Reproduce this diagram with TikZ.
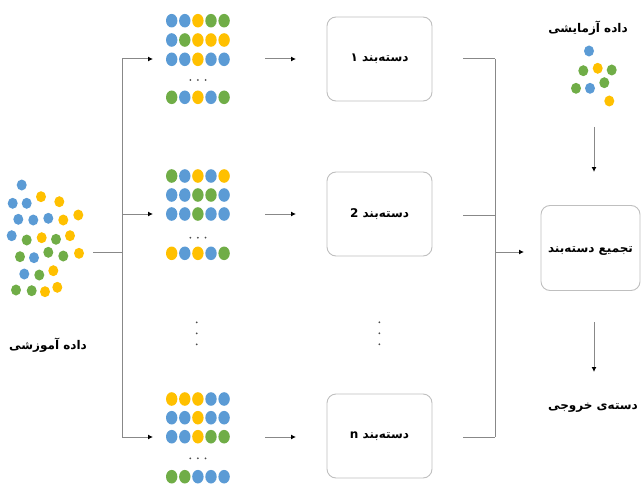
\documentclass[tikz,border=0pt]{standalone}
\usepackage{fontspec}
\usetikzlibrary{arrows.meta}
\TeXXeTstate=1
\newfontfamily\arabicfont[Script=Arabic]{DejaVu Sans}
\definecolor{cb}{HTML}{5B9BD5}
\definecolor{cy}{HTML}{FFC000}
\definecolor{cg}{HTML}{70AD47}
\definecolor{lgray}{HTML}{888888}
\definecolor{bgray}{HTML}{BFBFBF}

\tikzset{
  link/.style={draw=lgray, line width=1pt},
  arr/.style={link, -{Latex[length=5pt,width=5pt,color=black]}},
  clsbox/.style={draw=bgray, line width=0.9pt, rounded corners=9pt,
    minimum width=105pt, minimum height=84pt, inner sep=0pt},
  aggbox/.style={clsbox, minimum width=99pt, minimum height=85pt},
  fa/.style={font=\arabicfont\bfseries\fontsize{12}{14}\selectfont, inner sep=1pt},
  tinydot/.style={fill=black!70},
}

% one row of five sample dots in a bootstrap set
\newcommand\dotrow[2]{%
  \foreach \c [count=\i from 0] in {#2}{%
    \fill[\c] (171.7+13.1*\i,#1) ellipse [x radius=5.7pt, y radius=6.8pt];}}
% horizontal ellipsis under a set
\newcommand\hdotline[1]{%
  \foreach \xx in {190.3,197.9,205.5}{\fill[tinydot] (\xx,#1) circle [radius=1pt];}}
% vertical ellipsis
\newcommand\vdotline[1]{%
  \foreach \yy in {322.3,333.3,344.3}{\fill[tinydot] (#1,\yy) circle [radius=1pt];}}
% a single loose sample
\newcommand\sdot[3]{\fill[#3] (#1,#2) ellipse [x radius=5pt, y radius=5.5pt];}

\begin{document}
\begin{tikzpicture}[x=1pt,y=-1pt]
\useasboundingbox (0,0) rectangle (642,484);

% training data cloud
\sdot{21.7}{185}{cb}
\sdot{12.7}{203.3}{cb}
\sdot{26.7}{203.3}{cb}
\sdot{41}{196.7}{cy}
\sdot{59.3}{201.7}{cy}
\sdot{18.3}{219.3}{cb}
\sdot{33.3}{220}{cb}
\sdot{48.3}{218.3}{cb}
\sdot{63.3}{220}{cy}
\sdot{78.3}{215}{cy}
\sdot{11.7}{235.7}{cb}
\sdot{26.7}{240}{cg}
\sdot{41.7}{237.7}{cy}
\sdot{56}{239.3}{cg}
\sdot{70}{235.7}{cy}
\sdot{20}{256.7}{cg}
\sdot{34}{257.7}{cb}
\sdot{48.3}{252.3}{cg}
\sdot{63.3}{256}{cg}
\sdot{79}{253.3}{cy}
\sdot{24.3}{274}{cb}
\sdot{39.3}{275}{cg}
\sdot{53.3}{270.7}{cy}
\sdot{16}{290}{cg}
\sdot{31.7}{290.7}{cg}
\sdot{45}{291.7}{cy}
\sdot{57.3}{287.3}{cy}
\node[fa] (trainlbl) at (48,345) {\beginR داده آموزشی\endR};

% test data
\node[fa] (testlbl) at (588,28) {\beginR داده آزمایشی\endR};
\sdot{589}{51}{cb}
\sdot{583.3}{70.7}{cg}
\sdot{597.7}{68.3}{cy}
\sdot{611.7}{70}{cg}
\sdot{576}{88.3}{cg}
\sdot{590}{88.3}{cb}
\sdot{604.3}{82.7}{cg}
\sdot{609.3}{101}{cy}

% bootstrap sets
\dotrow{20.7}{cb,cb,cy,cg,cg}
\dotrow{40}{cb,cg,cy,cy,cy}
\dotrow{59.3}{cb,cb,cy,cb,cb}
\hdotline{80}
\dotrow{97.3}{cg,cb,cy,cb,cg}

\dotrow{176}{cg,cb,cy,cb,cy}
\dotrow{195}{cb,cb,cg,cg,cb}
\dotrow{214}{cb,cb,cg,cb,cb}
\hdotline{237.7}
\dotrow{253.3}{cy,cb,cy,cb,cg}

\dotrow{399}{cy,cy,cy,cb,cb}
\dotrow{417.7}{cb,cb,cy,cb,cb}
\dotrow{436.7}{cb,cb,cy,cg,cg}
\hdotline{458.3}
\dotrow{476.7}{cg,cg,cb,cb,cb}

\vdotline{196.7}
\vdotline{379.3}

% classifiers
\node[clsbox] (c1) at (379.5,59) {};
\node[fa] at (c1.center) {\beginR دسته‌بند ۱\endR};
\node[clsbox] (c2) at (379.5,214) {};
\node[fa] at (c2.center) {\beginR دسته‌بند \beginL 2\endL\endR};
\node[clsbox] (c3) at (379.5,436) {};
\node[fa] at (c3.center) {\beginR دسته‌بند \beginL n\endL\endR};

% combiner
\node[aggbox] (agg) at (590.5,248) {};
\node[fa] at (590.5,251) {\beginR تجمیع دسته‌بند\endR};
\node[fa] (outlbl) at (593,408) {\beginR دسته‌ی خروجی\endR};

% split of the training data
\coordinate (ts) at (93,252);
\coordinate (sp) at (122,252);
\coordinate (sp1) at (122,59);
\coordinate (sp3) at (122,437);
\coordinate (s1) at (153,59);
\coordinate (s2) at (153,214);
\coordinate (s3) at (153,437);
\draw[link] (ts) -- (sp);
\draw[link] (sp1) -- (sp3);
\draw[arr] (sp1) -- (s1);
\draw[arr] (122,214) -- (s2);
\draw[arr] (sp3) -- (s3);

% sets to classifiers
\foreach \yy in {59,214,437}{\draw[arr] (265,\yy) -- (296,\yy);}

% classifiers to combiner
\coordinate (j1) at (495,59);
\coordinate (j3) at (495,437);
\coordinate (jm) at (495,252);
\coordinate (je) at (524,252);
\foreach \yy in {59,215,437}{\draw[link] (463,\yy) -- (495,\yy);}
\draw[link] (j1) -- (j3);
\draw[arr] (jm) -- (je);

% test data in, output out
\coordinate (t0) at (594,127);
\coordinate (t1) at (594,172);
\draw[arr] (t0) -- (t1);
\coordinate (o0) at (594,322);
\coordinate (o1) at (594,372);
\draw[arr] (o0) -- (o1);
\end{tikzpicture}
\end{document}
